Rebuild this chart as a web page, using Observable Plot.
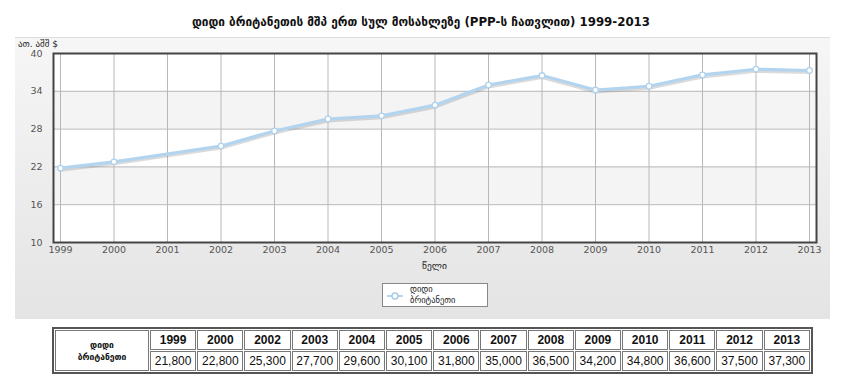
<!DOCTYPE html>
<html><head><meta charset="utf-8">
<script src="https://cdn.jsdelivr.net/npm/d3@7"></script>
<script src="https://cdn.jsdelivr.net/npm/@observablehq/plot@0.6"></script>
<style>
body{margin:0;width:842px;height:376px;background:#fff;position:relative;overflow:hidden;font-family:"DejaVu Sans",sans-serif}
#title{position:absolute;left:0;width:842px;top:15px;text-align:center;font-weight:bold;font-size:11.8px;color:#111}
#panel{position:absolute;left:15px;top:37px;width:815px;height:281px;background:linear-gradient(#f6f6f6,#e4e4e4);border-top:1px solid #ddd}
#chart{position:absolute;left:0;top:0}
#ylab{position:absolute;left:18px;top:39px;font-size:9px;color:#222}
#xlab{position:absolute;left:0;width:869px;top:260px;text-align:center;font-size:9.5px;color:#222}
#legend{position:absolute;left:382px;top:283px;width:104px;height:22px;background:#fff;border:1px solid #888;font-size:8.5px;color:#222}
#legend svg{position:absolute;left:4px;top:6px}
#legend .t{position:absolute;left:27px;top:0px;line-height:11px}
#tbl{position:absolute;left:52px;top:327px;width:761px;border-collapse:separate;border-spacing:1px;border:2px solid #555;font-family:"Liberation Sans",Arial,sans-serif;font-size:12px;table-layout:fixed}
#tbl td{border:1px solid #777;text-align:center;padding:0;height:18px;color:#111}
#tbl tr:first-child td{font-weight:bold}
#tbl td.name{width:92px;font-family:"DejaVu Sans",sans-serif;font-weight:bold;font-size:8.5px;line-height:12px}
</style></head>
<body>
<div id="title">დიდი ბრიტანეთის მშპ ერთ სულ მოსახლეზე (PPP-ს ჩათვლით) 1999-2013</div>
<div id="panel"></div>
<div id="chart"></div>
<div id="ylab">ათ. აშშ $</div>
<div id="xlab">წელი</div>
<div id="legend"><svg width="20" height="12"><line x1="0" y1="6" x2="16" y2="6" stroke="#b5d5ee" stroke-width="2"/><circle cx="8" cy="6" r="3" fill="#fff" stroke="#a8cdea" stroke-width="1.5"/></svg><div class="t">დიდი<br>ბრიტანეთი</div></div>
<table id="tbl"></table>
<script>
const seriesName = "დიდი ბრიტანეთი";
const years = [1999, 2000, 2002, 2003, 2004, 2005, 2006, 2007, 2008, 2009, 2010, 2011, 2012, 2013];
const values = [21800, 22800, 25300, 27700, 29600, 30100, 31800, 35000, 36500, 34200, 34800, 36600, 37500, 37300];
const xTicks = [1999, 2000, 2001, 2002, 2003, 2004, 2005, 2006, 2007, 2008, 2009, 2010, 2011, 2012, 2013];
const yTicks = [10, 16, 22, 28, 34, 40];
const bands = [[28, 34], [16, 22]];

const data = years.map((y, i) => ({year: y, v: values[i] / 1000}));
const bandData = bands.map(b => ({y1: b[0], y2: b[1]}));

const chart = Plot.plot({
  width: 842, height: 320,
  marginLeft: 53, marginRight: 26, marginTop: 53, marginBottom: 78,
  style: {background: "transparent", fontFamily: "DejaVu Sans, sans-serif", fontSize: "9.5px", color: "#555"},
  x: {domain: [1999, 2013], inset: 7, ticks: xTicks, tickFormat: d => String(d), label: null},
  y: {domain: [10, 40], ticks: yTicks, label: null},
  marks: [
    Plot.rect([{}], {fill: "#fff"}),
    Plot.rect(bandData, {y1: "y1", y2: "y2", fill: "#f4f4f4"}),
    Plot.gridX(xTicks, {stroke: "#b8b8b8", strokeOpacity: 1}),
    Plot.gridY(yTicks, {stroke: "#b8b8b8", strokeOpacity: 1}),
    Plot.axisX(xTicks, {tickSize: 0, tickPadding: 4, fill: "#555", tickFormat: d => String(d), label: null}),
    Plot.axisY(yTicks, {tickSize: 0, tickPadding: 11, fill: "#555", label: null}),
    Plot.line(data, {x: "year", y: "v", stroke: "#888", strokeOpacity: 0.3, strokeWidth: 3, dy: 2}),
    Plot.line(data, {x: "year", y: "v", stroke: "#b3d4ee", strokeWidth: 3.2}),
    Plot.dot(data, {x: "year", y: "v", r: 2.8, fill: "#fff", stroke: "#b0d2ec", strokeWidth: 1.3}),
    Plot.frame({stroke: "#444", strokeWidth: 2})
  ]
});
document.getElementById("chart").appendChild(chart);

const tbl = document.getElementById("tbl");
const r1 = tbl.insertRow(), r2 = tbl.insertRow();
const nc = r1.insertCell(); nc.rowSpan = 2; nc.className = "name";
nc.innerHTML = "დიდი<br>ბრიტანეთი";
years.forEach((y, i) => {
  const a = r1.insertCell(); a.textContent = y;
  const b = r2.insertCell(); b.textContent = d3.format(",")(values[i]);
});
</script>
</body></html>
